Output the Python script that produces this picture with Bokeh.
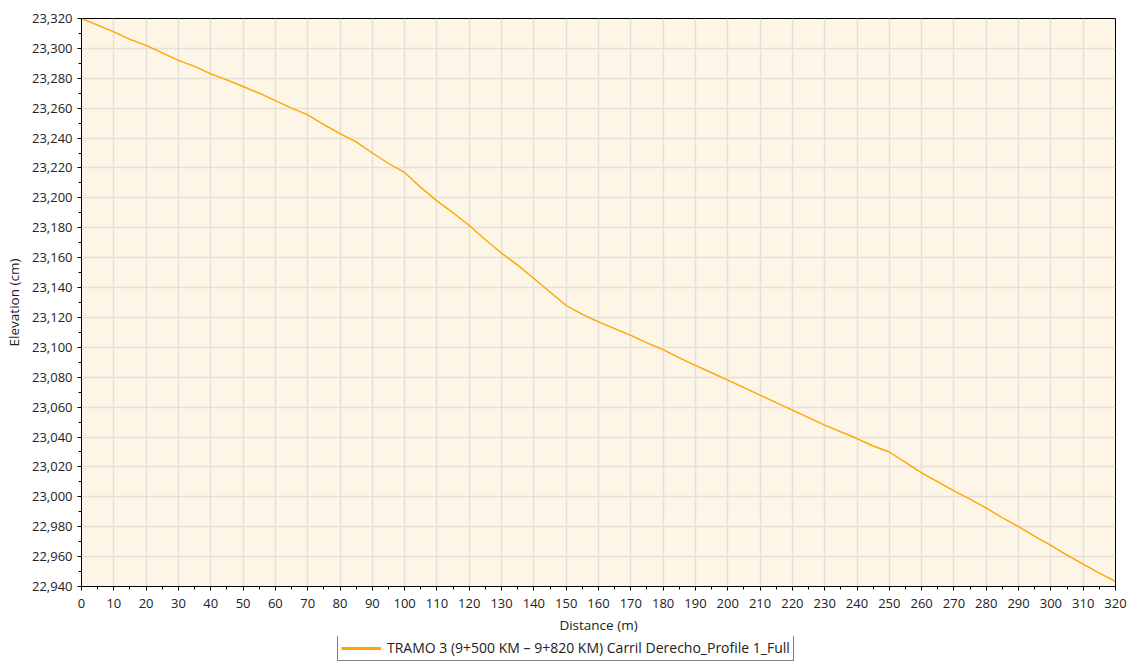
from bokeh.plotting import figure
from bokeh.layouts import column
from bokeh.models import Legend, LegendItem, NumeralTickFormatter, SingleIntervalTicker, Range1d
from bokeh.embed import file_html
from bokeh.resources import INLINE

distance = [0, 5, 10, 15, 20, 25, 30, 35, 40, 45, 50, 55, 60, 65, 70, 75, 80, 85, 90, 95,
            100, 105, 110, 115, 120, 125, 130, 135, 140, 145, 150, 155, 160, 165, 170, 175,
            180, 185, 190, 195, 200, 205, 210, 215, 220, 225, 230, 235, 240, 245, 250, 255,
            260, 265, 270, 275, 280, 285, 290, 295, 300, 305, 310, 315, 320]
elevation = [23320, 23315.5, 23311, 23306, 23302, 23297, 23292, 23288, 23283, 23279,
             23274.5, 23270, 23265, 23260, 23255.5, 23249, 23243, 23237.5, 23230, 23223,
             23217, 23207, 23198, 23190, 23181.5, 23172, 23163, 23155, 23146, 23137,
             23128, 23122, 23117, 23112.5, 23108, 23103, 23098.5, 23093, 23088, 23083,
             23078, 23073, 23068, 23063, 23058, 23053, 23048, 23043.5, 23039, 23034,
             23030, 23023, 23016, 23010, 23004, 22998.5, 22992.5, 22986, 22980, 22973.5,
             22967.5, 22961, 22955, 22949, 22943.5]
series_name = "TRAMO 3 (9+500 KM \u2013 9+820 KM) Carril Derecho_Profile 1_Full"

FONT = "Open Sans"
ORANGE = "#FFA500"
W = 1128

p = figure(width=W, height=636, output_backend="svg", toolbar_location=None,
           x_range=Range1d(0, 320), y_range=Range1d(22940, 23320),
           min_border_left=81, min_border_right=W - 1115, min_border_top=18, min_border_bottom=50)

p.background_fill_color = "#FDF5E6"
p.border_fill_color = "white"
p.outline_line_color = "black"
p.outline_line_width = 1

p.line(distance, elevation, line_color=ORANGE, line_width=1.4)

for ax in (p.xaxis[0], p.yaxis[0]):
    ax.axis_line_color = "black"
    ax.major_tick_line_color = "black"
    ax.minor_tick_line_color = "black"
    ax.major_tick_out = 4
    ax.major_tick_in = 0
    ax.minor_tick_out = 3
    ax.minor_tick_in = 0
    ax.major_label_text_font = FONT
    ax.major_label_text_font_size = "13px"
    ax.major_label_text_color = "#222222"
    ax.axis_label_text_font = FONT
    ax.axis_label_text_font_size = "13.5px"
    ax.axis_label_text_font_style = "normal"
    ax.axis_label_text_color = "#222222"

p.xaxis[0].ticker = SingleIntervalTicker(interval=10, num_minor_ticks=2)
p.yaxis[0].ticker = SingleIntervalTicker(interval=20, num_minor_ticks=2)
p.yaxis[0].formatter = NumeralTickFormatter(format="0,0")
p.xaxis[0].axis_label = "Distance (m)"
p.yaxis[0].axis_label = "Elevation (cm)"
p.xaxis[0].major_label_standoff = 8
p.yaxis[0].major_label_standoff = 5
p.xaxis[0].axis_label_standoff = 5
p.yaxis[0].axis_label_standoff = 6

p.xgrid.grid_line_color = "#E6E0DA"
p.ygrid.grid_line_color = "#E6E0DA"
p.xgrid.grid_line_width = 1.5
p.ygrid.grid_line_width = 1.5

# legend strip below the chart (its frame is aligned with the chart's frame by the column)
lf = figure(width=W, height=25, output_backend="svg", toolbar_location=None,
            x_axis_type=None, y_axis_type=None, min_border=0,
            x_range=Range1d(0, 1), y_range=Range1d(0, 1))
lf.outline_line_color = None
lf.background_fill_color = "white"
lf.border_fill_color = "white"
lf.grid.visible = False
# proxy renderer for the legend swatch; its data lies outside this strip's ranges, so only the swatch shows
proxy = lf.line(distance, elevation, line_color=ORANGE, line_width=3)

legend = Legend(items=[LegendItem(label=series_name, renderers=[proxy])],
                location=(256, 0), orientation="horizontal",
                border_line_color="black", border_line_width=1,
                background_fill_color="white", background_fill_alpha=1,
                label_text_font=FONT, label_text_font_size="14px", label_text_color="#222222",
                glyph_width=40, glyph_height=14, padding=3, margin=0, spacing=0,
                label_standoff=6, label_height=14)
lf.add_layout(legend, "center")

layout = column(p, lf, spacing=0)
open("out.html", "w").write(file_html(layout, INLINE))
